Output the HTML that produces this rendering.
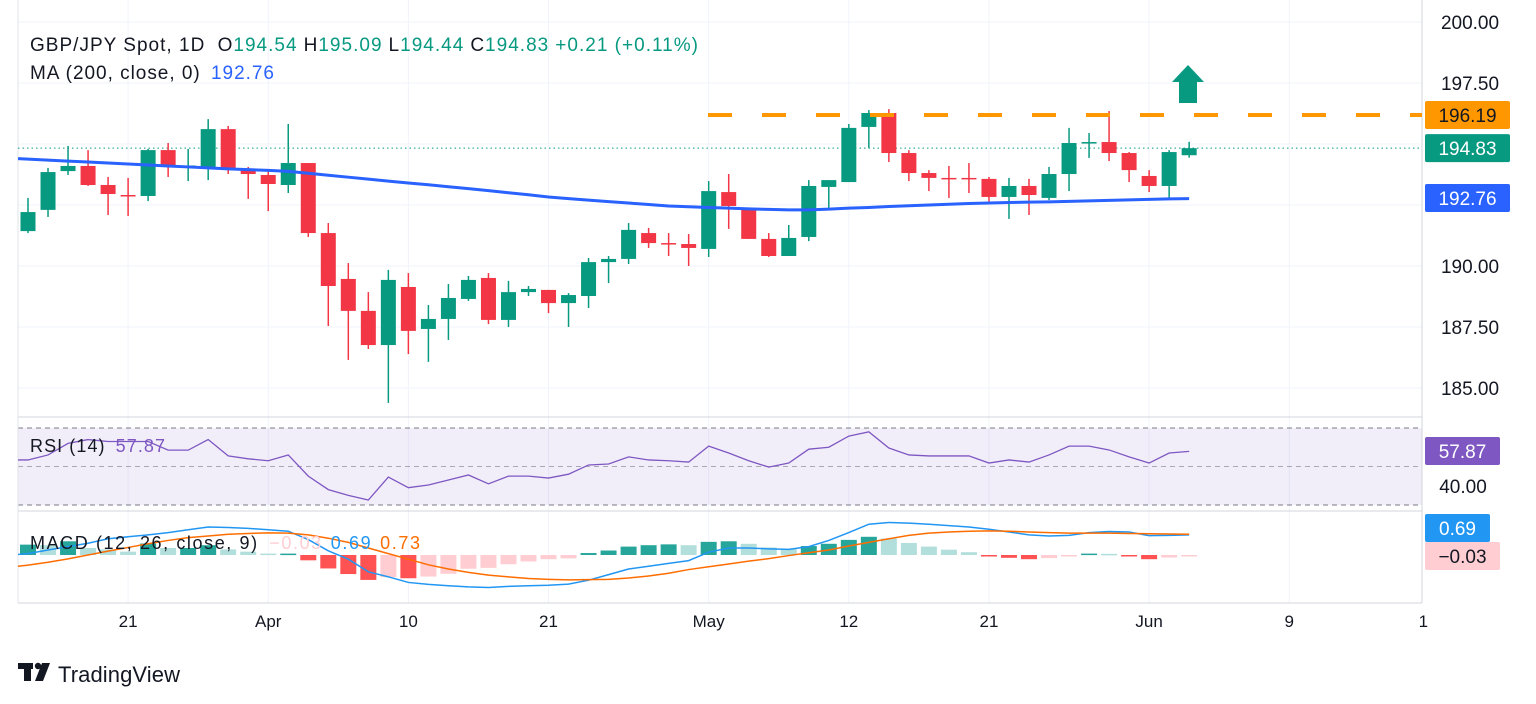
<!DOCTYPE html>
<html><head><meta charset="utf-8"><style>
html,body{margin:0;padding:0;background:#fff;width:1536px;height:704px;overflow:hidden}
svg{display:block;font-family:"Liberation Sans",sans-serif}
</style></head><body>
<svg id="c" width="1536" height="704" xmlns="http://www.w3.org/2000/svg">
<rect width="1536" height="704" fill="#fff"/>
<g id="grid"></g>
<rect x="18" y="428" width="1404" height="77" fill="#7e57c2" fill-opacity="0.1"/>
<line x1="18" x2="1422" y1="428" y2="428" stroke="#787b86" stroke-dasharray="5,4"/>
<line x1="18" x2="1422" y1="466.5" y2="466.5" stroke="#787b86" stroke-dasharray="5,4" stroke-opacity="0.6"/>
<line x1="18" x2="1422" y1="505" y2="505" stroke="#787b86" stroke-dasharray="5,4"/>
<line x1="18" x2="1422" y1="417" y2="417" stroke="#d1d4dc"/>
<line x1="18" x2="1422" y1="511" y2="511" stroke="#d1d4dc"/>
<line x1="1422" x2="1422" y1="0" y2="603" stroke="#d1d4dc"/>
<line x1="18" x2="1422" y1="603" y2="603" stroke="#d1d4dc"/>
<line x1="18" x2="18" y1="0" y2="603" stroke="#e0e3eb"/>
<g id="marks"></g>
<line x1="708" x2="1422" y1="115" y2="115" stroke="#ff9800" stroke-width="4" stroke-dasharray="24,30"/>
<polygon points="1188,65 1204,82 1197,82 1197,103 1179,103 1179,82 1172,82" fill="#089981"/>
<g id="axes"></g>
<text x="30" y="51" font-size="19" fill="#131722" textLength="668" lengthAdjust="spacing">GBP/JPY Spot, 1D <tspan dx="6">O</tspan><tspan fill="#089981">194.54</tspan><tspan dx="6">H</tspan><tspan fill="#089981">195.09</tspan><tspan dx="6">L</tspan><tspan fill="#089981">194.44</tspan><tspan dx="6">C</tspan><tspan fill="#089981">194.83</tspan><tspan dx="6" fill="#089981">+0.21 (+0.11%)</tspan></text>
<text x="30" y="79" font-size="19" fill="#131722" textLength="244" lengthAdjust="spacing">MA (200, close, 0) <tspan dx="4" fill="#2962ff">192.76</tspan></text>
<text x="30" y="452" font-size="18" fill="#131722" textLength="135" lengthAdjust="spacing">RSI (14) <tspan dx="4" fill="#7e57c2">57.87</tspan></text>
<text x="30" y="549" font-size="18" fill="#131722" textLength="390" lengthAdjust="spacing">MACD (12, 26, close, 9) <tspan dx="4" fill="#ffcdd2">−0.03</tspan><tspan dx="8" fill="#2196f3">0.69</tspan><tspan dx="8" fill="#ff6d00">0.73</tspan></text>
<g>
<g fill="#131722">
<rect x="18" y="663" width="15" height="6"/>
<rect x="24" y="663" width="7" height="18"/>
<circle cx="38" cy="666" r="3.2"/>
<polygon points="42,663 50,663 43,681 35,681"/>
</g>
<text x="58" y="682" font-size="22" fill="#131722" textLength="122" lengthAdjust="spacing">TradingView</text>
</g>
</svg>
<script>
const opens=[191.43,192.30,193.89,194.10,193.32,192.91,192.87,194.75,194.10,194.06,195.61,193.93,193.73,193.32,194.22,191.35,189.47,188.16,186.76,189.14,187.42,187.83,188.65,189.51,187.79,188.93,189.02,188.48,188.77,190.16,190.29,191.35,190.94,190.90,190.70,193.03,192.34,191.11,190.41,191.19,193.24,193.44,195.70,196.27,194.63,193.81,193.61,193.61,193.57,192.83,193.28,192.79,193.77,195.06,195.08,194.63,193.69,193.28,194.54];
const highs=[192.79,194.02,194.92,194.75,193.65,193.61,194.80,195.04,194.80,196.02,195.74,194.06,193.93,195.82,194.22,191.76,190.12,188.93,189.84,189.71,188.40,189.26,189.59,189.71,189.39,189.18,189.02,188.89,190.33,190.41,191.76,191.56,191.35,191.31,193.48,193.77,192.34,191.35,191.68,193.52,193.52,195.82,196.39,196.43,194.75,193.93,194.10,194.22,193.65,193.61,193.57,194.06,195.66,195.45,196.35,194.67,193.93,194.75,195.09];
const lows=[191.35,192.01,193.73,193.28,192.09,192.05,192.66,193.65,193.48,193.52,193.77,192.75,192.25,192.99,191.19,187.54,186.15,186.60,184.39,186.39,186.07,186.97,188.57,187.62,187.50,188.77,188.07,187.50,188.28,189.30,190.08,190.74,190.41,190.00,190.37,191.52,191.11,190.37,190.41,191.02,192.38,193.44,194.84,194.26,193.48,193.07,192.79,192.99,192.62,191.93,192.09,192.70,193.07,194.43,194.30,193.44,193.03,192.79,194.44];
const closes=[192.21,193.85,194.10,193.32,192.95,192.89,194.75,194.06,194.12,195.61,194.02,193.77,193.36,194.22,191.35,189.18,188.16,186.76,189.43,187.34,187.83,188.69,189.43,187.79,188.93,189.06,188.48,188.81,190.16,190.29,191.48,190.94,190.92,190.74,193.07,192.46,191.11,190.41,191.15,193.28,193.52,195.66,196.27,194.63,193.81,193.61,193.59,193.59,192.83,193.28,192.91,193.77,195.04,195.08,194.63,193.93,193.28,194.67,194.83];
const ma200=[194.38,194.34,194.30,194.26,194.22,194.18,194.14,194.10,194.06,194.02,193.98,193.95,193.92,193.88,193.80,193.72,193.64,193.56,193.48,193.40,193.33,193.25,193.17,193.09,193.00,192.92,192.83,192.76,192.70,192.64,192.58,192.52,192.46,192.43,192.40,192.37,192.34,192.32,192.30,192.30,192.33,192.37,192.40,192.44,192.47,192.50,192.53,192.56,192.58,192.60,192.62,192.63,192.65,192.67,192.69,192.71,192.73,192.75,192.76];
const rsi=[53.4,56,62,64,63,63,63,58.5,58.5,64,55.5,54,53,56,45,38,35,32.6,44.5,39,40.4,43,45.6,41,45,45,44,46,50.8,51.3,55,53.4,53,52.3,60.6,57,53,49.7,51.8,59,60,65.8,68,59.6,56,55.5,55.5,55.5,51.8,53.4,52.3,56,60.6,60.6,58.6,55,51.8,57,57.87];
const macdLine=[0.05,0.18,0.30,0.42,0.58,0.65,0.72,0.80,0.90,1.00,0.98,0.95,0.90,0.85,0.55,0.15,-0.15,-0.60,-0.78,-0.98,-1.05,-1.10,-1.14,-1.16,-1.12,-1.10,-1.08,-1.04,-0.90,-0.70,-0.50,-0.40,-0.30,-0.20,0.10,0.25,0.25,0.22,0.20,0.30,0.52,0.80,1.10,1.16,1.14,1.10,1.05,1.00,0.92,0.82,0.72,0.68,0.70,0.80,0.84,0.82,0.69,0.70,0.72];
const signalLine=[-0.36,-0.26,-0.14,0.0,0.14,0.27,0.40,0.52,0.62,0.68,0.74,0.77,0.79,0.78,0.72,0.60,0.45,0.25,0.05,-0.15,-0.35,-0.50,-0.62,-0.72,-0.78,-0.84,-0.87,-0.89,-0.88,-0.87,-0.82,-0.75,-0.65,-0.52,-0.42,-0.32,-0.22,-0.13,-0.02,0.08,0.18,0.32,0.45,0.58,0.70,0.78,0.82,0.85,0.86,0.85,0.82,0.80,0.78,0.78,0.78,0.77,0.76,0.75,0.74];
const hist=[0.37,0.35,0.49,0.25,0.20,0.12,0.41,0.25,0.25,0.35,0.20,0.12,0.05,0.05,-0.19,-0.48,-0.68,-0.89,-0.79,-0.83,-0.77,-0.67,-0.49,-0.46,-0.33,-0.23,-0.15,-0.12,0.07,0.16,0.30,0.35,0.38,0.35,0.47,0.49,0.40,0.27,0.22,0.32,0.40,0.54,0.65,0.59,0.43,0.30,0.19,0.10,-0.04,-0.10,-0.15,-0.11,-0.04,0.05,0.04,-0.04,-0.15,-0.09,-0.03];
const priceTicks=[200,197.5,190,187.5,185];
const gridPrices=[200,197.5,195,192.5,190,187.5,185];
const timeLabels=["21","Apr","10","21","May","12","21","Jun","9","1"];
const timeIdx=[5,12,19,26,34,41,48,56,63,69.7];

const NS="http://www.w3.org/2000/svg";
const X=i=>28+i*20.02;
const Y=p=>266-(p-190)*24.4;
const RY=v=>505-(v-30)*1.925;
const MY=v=>555-v*28;
function mk(tag,attrs,parent){const e=document.createElementNS(NS,tag);for(const k in attrs)e.setAttribute(k,attrs[k]);parent.appendChild(e);return e;}
const grid=document.getElementById('grid'),marks=document.getElementById('marks'),axes=document.getElementById('axes');

gridPrices.forEach(p=>{const l=mk('line',{x1:18,x2:1422,y1:Y(p),y2:Y(p),stroke:'#f0f3fa'},grid);

});
timeIdx.forEach((t,k)=>{if(k===9)return;const l=mk('line',{x1:X(t),x2:X(t),y1:0,y2:603,stroke:'#f0f3fa'},grid);

});

const cl=mk('line',{x1:18,x2:1422,y1:Y(closes[closes.length-1]),y2:Y(closes[closes.length-1]),stroke:'#089981','stroke-dasharray':'1.5,3'},marks);



for(let i=0;i<opens.length;i++){
 const up=closes[i]>=opens[i];const col=up?'#089981':'#f23645';
 const g=mk('g',{},marks);
 
 
 mk('line',{x1:X(i),x2:X(i),y1:Y(highs[i]),y2:Y(lows[i]),stroke:col,'stroke-width':1.5},g);
 const t=Y(Math.max(opens[i],closes[i])),b=Y(Math.min(opens[i],closes[i]));
 mk('rect',{x:X(i)-7.5,y:t,width:15,height:Math.max(1.5,b-t),fill:col},g);
}
let d='M18,'+Y(ma200[0]+0.02);ma200.forEach((v,i)=>{d+='L'+X(i)+','+Y(v);});
const ma=mk('path',{d:d,fill:'none',stroke:'#2962ff','stroke-width':3},marks);


d='M18,'+RY(rsi[0]);rsi.forEach((v,i)=>{d+='L'+X(i)+','+RY(v);});
const rl=mk('path',{d:d,fill:'none',stroke:'#7e57c2','stroke-width':1.3},marks);


hist.forEach((v,i)=>{const prev=i?hist[i-1]:v;let col;
 if(v>=0)col=v>=prev?'#26a69a':'#b2dfdb';else col=v<=prev?'#ff5252':'#ffcdd2';
 const y=v>=0?MY(v):MY(0);const h=Math.max(1.5,Math.abs(v)*28);
 const r=mk('rect',{x:X(i)-8,y:y,width:16,height:h,fill:col},marks);
 
 });
d='M18,'+MY(macdLine[0]-0.03);macdLine.forEach((v,i)=>{d+='L'+X(i)+','+MY(v);});
const ml=mk('path',{d:d,fill:'none',stroke:'#2196f3','stroke-width':1.5},marks);


d='M18,'+MY(signalLine[0]-0.04);signalLine.forEach((v,i)=>{d+='L'+X(i)+','+MY(v);});
const sl=mk('path',{d:d,fill:'none',stroke:'#ff6d00','stroke-width':1.5},marks);



priceTicks.forEach(p=>{const t=mk('text',{x:1470,y:Y(p)+7,'font-size':19,fill:'#131722','text-anchor':'middle'},axes);t.textContent=p.toFixed(2);

});
const r40=mk('text',{x:1463,y:RY(40)+7,'font-size':19,fill:'#131722','text-anchor':'middle'},axes);r40.textContent='40.00';


timeLabels.forEach((s,k)=>{const t=mk('text',{x:X(timeIdx[k]),y:627,'font-size':17,fill:'#131722','text-anchor':'middle'},axes);t.textContent=s;

});
function tag(y,bg,fg,txt,w,name){const g=mk('g',{},axes);
 
 
 mk('rect',{x:1425,y:y-14,width:w,height:28,rx:2,fill:bg},g);
 const t=mk('text',{x:1425+w/2,y:y+7,'font-size':19,fill:fg,'text-anchor':'middle'},g);t.textContent=txt;}
tag(Y(196.19),'#ff9800','#131722','196.19',85,'resistance-price-tag');
tag(Y(194.83),'#089981','#fff','194.83',85,'last-price-tag');
tag(198,'#2962ff','#fff','192.76',85,'ma-price-tag');
tag(451,'#7e57c2','#fff','57.87',75,'rsi-value-tag');
tag(528,'#2196f3','#fff','0.69',65,'macd-value-tag');
tag(556,'#ffcdd2','#131722','−0.03',75,'histogram-value-tag');
</script>
</body></html>
